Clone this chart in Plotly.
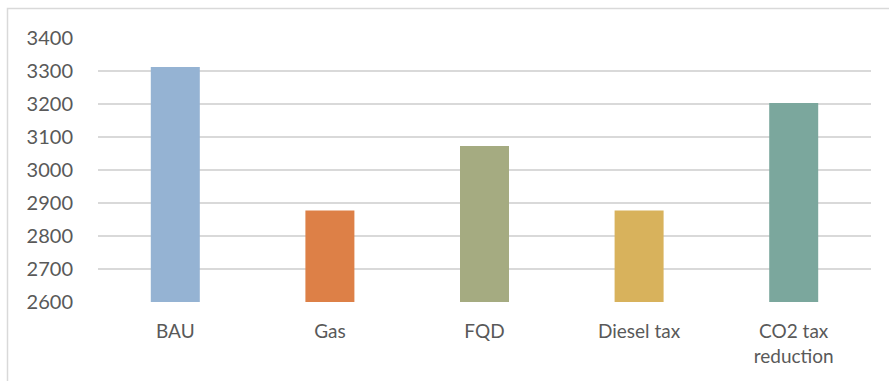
import plotly.graph_objects as go

# Scenario results
categories = ["BAU", "Gas", "FQD", "Diesel tax", "CO2 tax<br>reduction"]
values = [3312, 2877, 3073, 2877, 3203]
colors = ["#95B3D3", "#DD8047", "#A5AB81", "#D8B25C", "#7BA79D"]

y_ticks = [2600, 2700, 2800, 2900, 3000, 3100, 3200, 3300, 3400]

W, H = 889, 381
ml, mr, mt, mb = 98, 18, 38, 79

fig = go.Figure(
    go.Bar(
        x=categories,
        y=values,
        marker=dict(color=colors, line=dict(width=0)),
    )
)

pw = W - ml - mr
ph = H - mt - mb


def px_x(p):
    return (p - ml) / pw


def px_y(p):
    return 1 - (p - mt) / ph


fig.update_layout(
    width=W,
    height=H,
    margin=dict(l=ml, r=mr, t=mt, b=mb, pad=0),
    paper_bgcolor="white",
    plot_bgcolor="white",
    bargap=0.683,
    showlegend=False,
    font=dict(family="Lato, sans-serif", size=20, color="#595959"),
    xaxis=dict(
        showgrid=False,
        showline=False,
        zeroline=False,
        ticks="",
        ticklabelstandoff=16,
        tickfont=dict(size=19),
    ),
    yaxis=dict(
        range=[2600, 3400],
        tickvals=y_ticks,
        showgrid=True,
        gridcolor="#D9D9D9",
        gridwidth=1.8,
        zeroline=False,
        showline=False,
        ticks="",
        ticklabelstandoff=24,
    ),
    shapes=[
        # chart-area frame (top and left edges visible)
        dict(
            type="rect",
            xref="paper",
            yref="paper",
            x0=px_x(7.5),
            x1=px_x(W + 10),
            y0=px_y(H + 10),
            y1=px_y(8.5),
            line=dict(color="#D9D9D9", width=1.5),
            fillcolor="rgba(0,0,0,0)",
            layer="below",
        )
    ],
)

fig.write_html("out.html")
